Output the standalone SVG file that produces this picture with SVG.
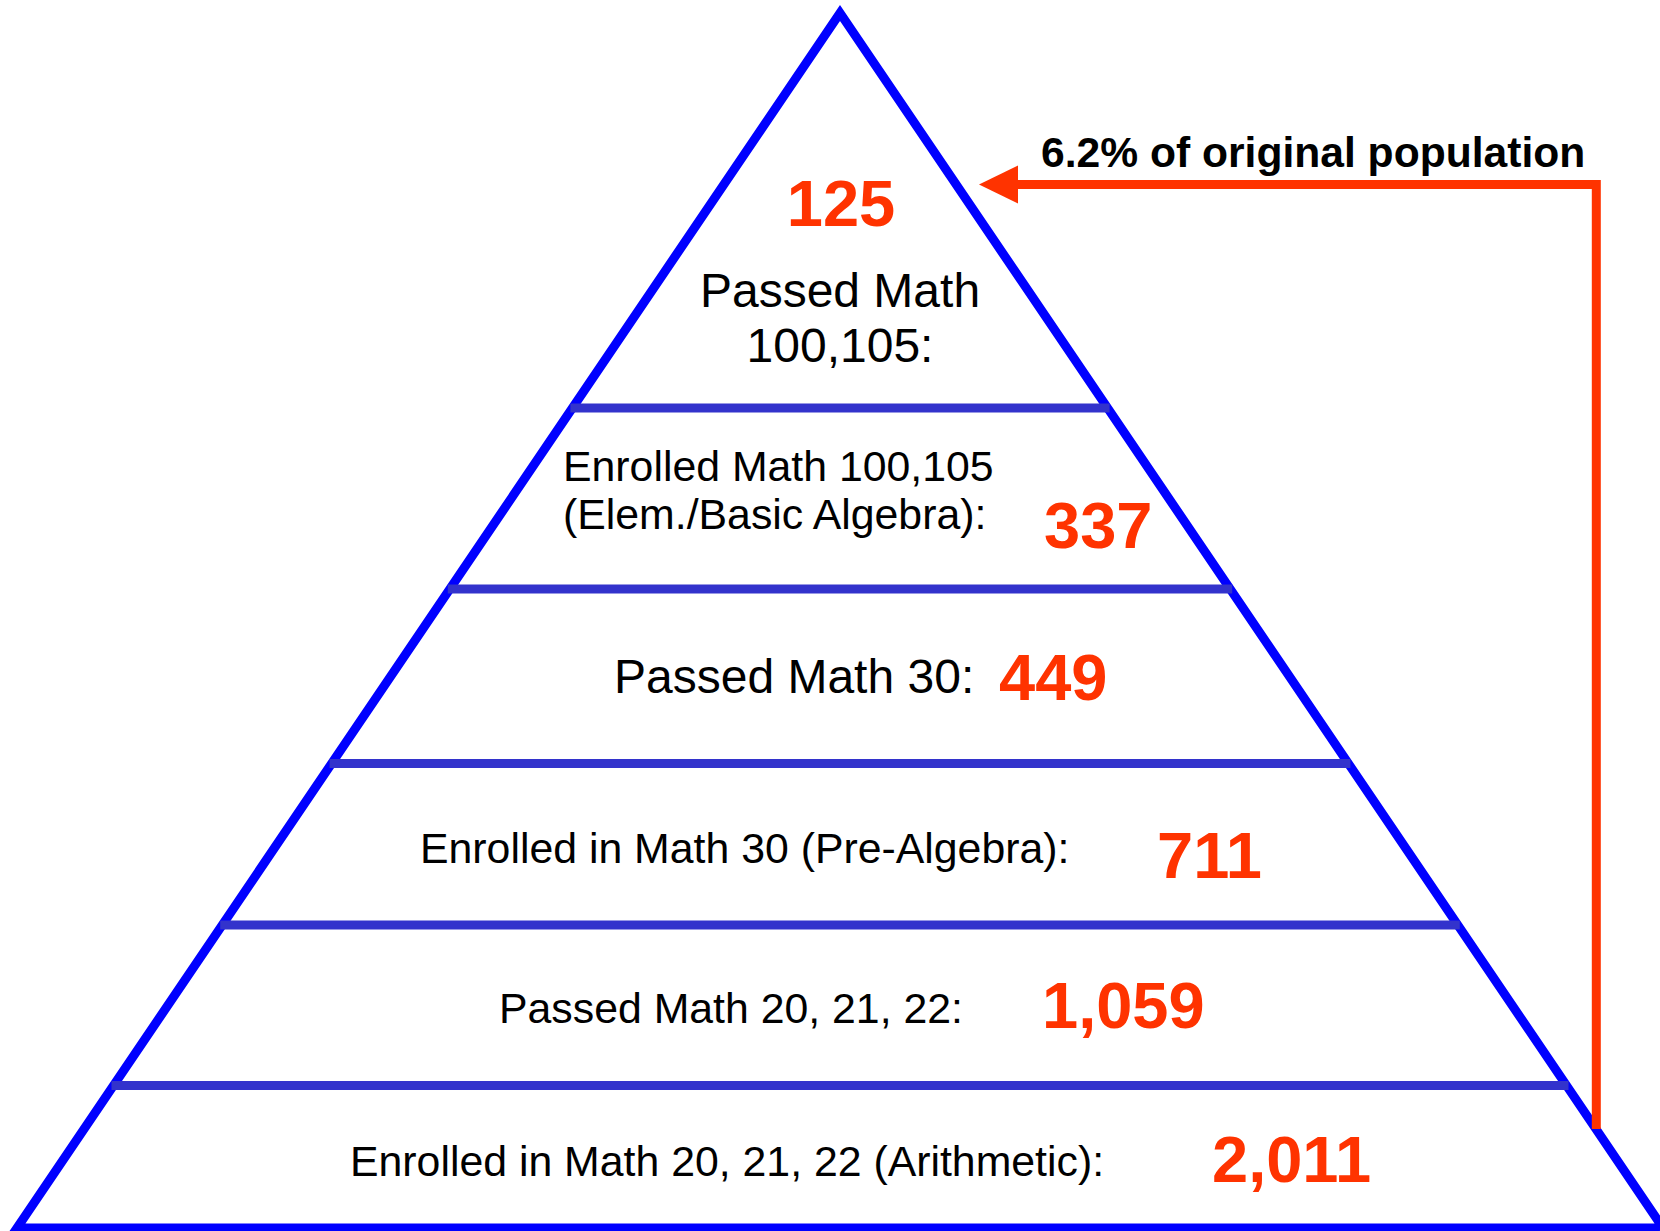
<svg xmlns="http://www.w3.org/2000/svg" width="1660" height="1231" viewBox="0 0 1660 1231">
  <style>
    .lbl { font-family: "Liberation Sans", Arial, sans-serif; fill: #000000; }
    .big { font-size: 48px; }
    .med { font-size: 42.8px; }
    .num { font-family: "Liberation Sans", Arial, sans-serif; font-weight: bold; font-size: 65px; fill: #ff3300; }
    .note { font-family: "Liberation Sans", Arial, sans-serif; font-weight: bold; font-size: 42.6px; fill: #000000; }
    .divider { stroke: #3333cc; stroke-width: 9; fill: none; }
    .edge { stroke: #0000ff; stroke-width: 9; fill: none; stroke-linejoin: miter; }
    .conn { stroke: #ff3300; stroke-width: 9; fill: none; stroke-linejoin: miter; }
  </style>
  <defs>
    <marker id="arrow" markerUnits="userSpaceOnUse" markerWidth="40" markerHeight="40" refX="0" refY="19" orient="auto" viewBox="0 0 40 38">
      <path d="M0,0 L39,19 L0,38 Z" fill="#ff3300"/>
    </marker>
  </defs>
  <rect width="1660" height="1231" fill="#ffffff"/>

  <g id="pyramid">
    <polygon class="edge" points="840,13 1663,1228 17,1228"/>
  </g>

  <g id="dividers">
    <line class="divider" x1="570.4" y1="408" x2="1109.6" y2="408"/>
    <line class="divider" x1="447.8" y1="589" x2="1232.2" y2="589"/>
    <line class="divider" x1="329.6" y1="763.5" x2="1350.4" y2="763.5"/>
    <line class="divider" x1="220.2" y1="925" x2="1459.8" y2="925"/>
    <line class="divider" x1="111.5" y1="1085.5" x2="1568.5" y2="1085.5"/>
  </g>

  <g id="tier-passed-math-100">
    <text class="num" x="841" y="225.7" text-anchor="middle">125</text>
    <text class="lbl big" x="840" y="307" text-anchor="middle">Passed Math</text>
    <text class="lbl big" x="840" y="362" text-anchor="middle">100,105:</text>
  </g>

  <g id="tier-enrolled-math-100">
    <text class="lbl med" x="563" y="481">Enrolled Math 100,105</text>
    <text class="lbl med" x="563" y="529">(Elem./Basic Algebra):</text>
    <text class="num" x="1044" y="548">337</text>
  </g>

  <g id="tier-passed-math-30">
    <text class="lbl big" x="614" y="693">Passed Math 30:</text>
    <text class="num" x="999" y="700">449</text>
  </g>

  <g id="tier-enrolled-math-30">
    <text class="lbl med" x="420" y="863">Enrolled in Math 30 (Pre-Algebra):</text>
    <text class="num" x="1157" y="878">711</text>
  </g>

  <g id="tier-passed-math-20">
    <text class="lbl med" x="499" y="1023">Passed Math 20, 21, 22:</text>
    <text class="num" x="1042" y="1028">1,059</text>
  </g>

  <g id="tier-enrolled-math-20">
    <text class="lbl med" x="350" y="1176">Enrolled in Math 20, 21, 22 (Arithmetic):</text>
    <text class="num" x="1212" y="1181.5">2,011</text>
  </g>

  <g id="connectors">
    <path class="conn" d="M1596.3,1129 V184.5 H1018" marker-end="url(#arrow)"/>
  </g>

  <g id="note">
    <text class="note" x="1041" y="167">6.2% of original population</text>
  </g>
</svg>
